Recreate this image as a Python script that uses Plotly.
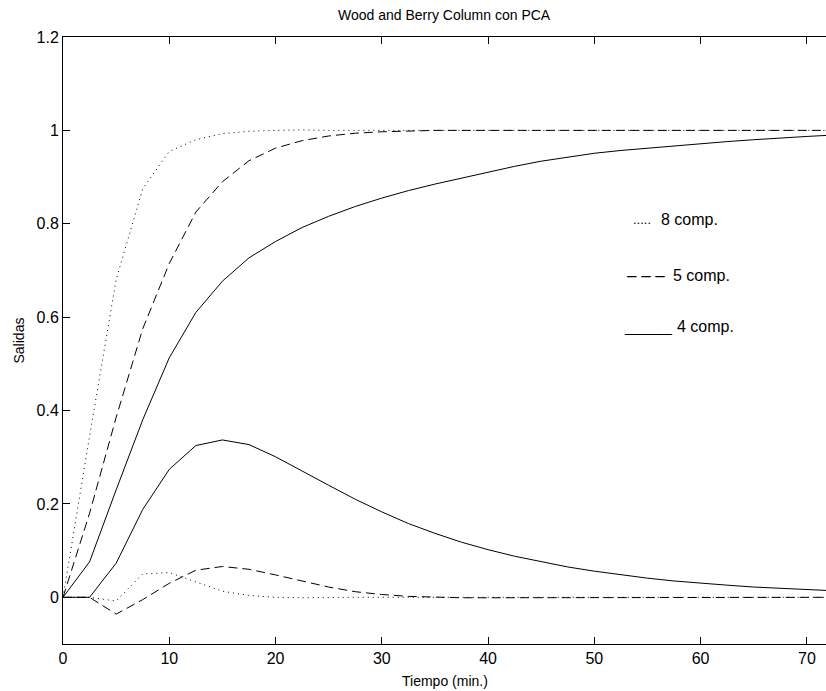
import plotly.graph_objects as go

# time samples (min.)
t = [0, 2.5, 5, 7.5, 10, 12.5, 15, 17.5, 20, 22.5, 25, 27.5, 30, 32.5, 35,
     37.5, 40, 42.5, 45, 47.5, 50, 52.5, 55, 57.5, 60, 62.5, 65, 67.5, 70, 72.5]

# 4 components (solid)
y1_4 = [0, 0.076, 0.23, 0.38, 0.513, 0.61, 0.677, 0.727, 0.762, 0.792, 0.816,
        0.837, 0.855, 0.871, 0.885, 0.898, 0.911, 0.923, 0.934, 0.943, 0.951,
        0.957, 0.962, 0.967, 0.972, 0.976, 0.98, 0.984, 0.987, 0.99]
y2_4 = [0, 0, 0.073, 0.188, 0.274, 0.325, 0.337, 0.327, 0.301, 0.27, 0.24,
        0.21, 0.183, 0.158, 0.137, 0.118, 0.102, 0.088, 0.076, 0.065, 0.056,
        0.048, 0.041, 0.035, 0.03, 0.026, 0.022, 0.019, 0.016, 0.014]

# 5 components (dashed)
y1_5 = [0, 0.18, 0.385, 0.575, 0.715, 0.825, 0.89, 0.935, 0.962, 0.978, 0.988,
        0.994, 0.997, 0.999, 1.0, 1.0, 1.0, 1.0, 1.0, 1.0, 1.0, 1.0, 1.0, 1.0,
        1.0, 1.0, 1.0, 1.0, 1.0, 1.0]
y2_5 = [0, 0, -0.036, -0.005, 0.03, 0.058, 0.066, 0.06, 0.048, 0.035, 0.022,
        0.012, 0.006, 0.002, 0.0, -0.001, -0.001, -0.001, 0, 0, 0, 0, 0, 0,
        0, 0, 0, 0, 0, 0]

# 8 components (dotted)
y1_8 = [0, 0.345, 0.68, 0.875, 0.955, 0.98, 0.993, 0.998, 1.0, 1.001, 1.0,
        1.0, 1.0, 1.0, 1.0, 1.0, 1.0, 1.0, 1.0, 1.0, 1.0, 1.0, 1.0, 1.0, 1.0,
        1.0, 1.0, 1.0, 1.0, 1.0]
y2_8 = [0, 0, -0.008, 0.05, 0.053, 0.033, 0.013, 0.004, 0.0, -0.001, 0, 0, 0,
        0, 0, 0, 0, 0, 0, 0, 0, 0, 0, 0, 0, 0, 0, 0, 0, 0]

x_ticks = [0, 10, 20, 30, 40, 50, 60, 70]
y_ticks = [0, 0.2, 0.4, 0.6, 0.8, 1.0, 1.2]
y_tick_text = ["0", "0.2", "0.4", "0.6", "0.8", "1", "1.2"]

# hand-placed key (text in data coordinates)
key_marks = [".....", "\u2013 \u2013 \u2013", "______"]
key_mark_size = [13, 17, 14]
key_mark_x = [53.45, 52.88, 52.6]
key_labels = ["8 comp.", "5 comp.", "4 comp."]
key_label_x = [56.08, 57.21, 57.59]
key_y = [0.810, 0.690, 0.579]

FONT = "Liberation Sans, Arial, sans-serif"

fig = go.Figure()
styles = [("1px,4px", y1_8, y2_8), ("9px,5px", y1_5, y2_5), ("solid", y1_4, y2_4)]
for dash, ya, yb in styles:
    for yy in (ya, yb):
        fig.add_trace(go.Scatter(x=t, y=yy, mode="lines",
                                 line=dict(color="black", width=1, dash=dash),
                                 showlegend=False, hoverinfo="skip"))

for mk, ms, mx, lb, lx, ky in zip(key_marks, key_mark_size, key_mark_x,
                                  key_labels, key_label_x, key_y):
    fig.add_annotation(x=mx, y=ky, xref="x", yref="y", text=mk, showarrow=False,
                       xanchor="left", yanchor="middle",
                       font=dict(family=FONT, size=ms, color="black"))
    fig.add_annotation(x=lx, y=ky, xref="x", yref="y", text=lb, showarrow=False,
                       xanchor="left", yanchor="middle",
                       font=dict(family=FONT, size=16, color="black"))

fig.add_annotation(x=0.5, y=1, xref="paper", yref="paper", yshift=22,
                   text="Wood and Berry Column con PCA", showarrow=False,
                   xanchor="center", yanchor="middle",
                   font=dict(family=FONT, size=14, color="black"))
fig.add_annotation(x=0.5, y=0, xref="paper", yref="paper", yshift=-37,
                   text="Tiempo (min.)", showarrow=False,
                   xanchor="center", yanchor="middle",
                   font=dict(family=FONT, size=14, color="black"))
fig.add_annotation(x=0, y=0.5, xref="paper", yref="paper", xshift=-45,
                   text="Salidas", showarrow=False, textangle=-90,
                   xanchor="center", yanchor="middle",
                   font=dict(family=FONT, size=14, color="black"))

fig.update_layout(
    width=826, height=691,
    margin=dict(l=63, r=0, t=37, b=47),
    paper_bgcolor="white", plot_bgcolor="white",
    font=dict(family=FONT, size=16, color="black"),
)
fig.update_xaxes(range=[0, 71.8], tickvals=x_ticks, ticks="inside", ticklen=7,
                 tickcolor="black", showline=True, linecolor="black", linewidth=1,
                 mirror="ticks", showgrid=False, zeroline=False,
                 tickfont=dict(family=FONT, size=16, color="black"))
fig.update_yaxes(range=[-0.1, 1.2], tickvals=y_ticks, ticktext=y_tick_text,
                 ticks="inside", ticklen=7, tickcolor="black", showline=True,
                 linecolor="black", linewidth=1, mirror=False, showgrid=False,
                 zeroline=False,
                 tickfont=dict(family=FONT, size=16, color="black"))

fig.write_html("out.html")
